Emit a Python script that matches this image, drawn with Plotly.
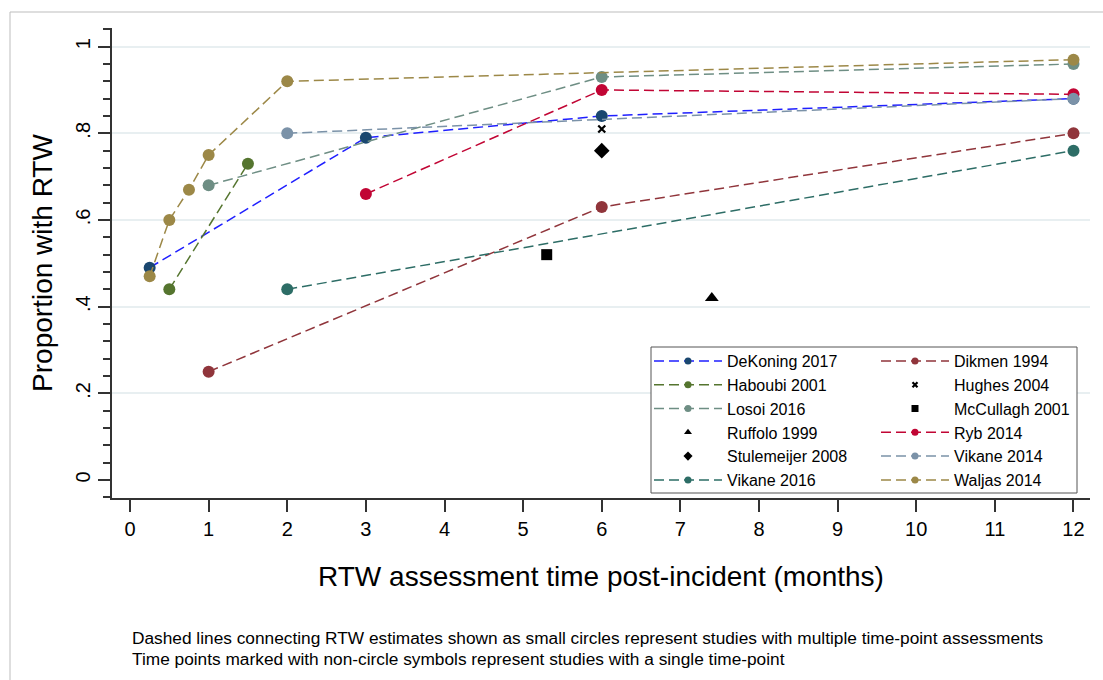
import plotly.graph_objects as go

# RTW proportions by assessment time (months post-incident)
dekoning_months = [0.25, 3, 6, 12]
dekoning_rtw = [0.49, 0.79, 0.84, 0.88]

dikmen_months = [1, 6, 12]
dikmen_rtw = [0.25, 0.63, 0.80]

haboubi_months = [0.5, 1.5]
haboubi_rtw = [0.44, 0.73]

hughes_months = [6]
hughes_rtw = [0.81]

losoi_months = [1, 6, 12]
losoi_rtw = [0.68, 0.93, 0.96]

mccullagh_months = [5.3]
mccullagh_rtw = [0.52]

ruffolo_months = [7.4]
ruffolo_rtw = [0.42]

ryb_months = [3, 6, 12]
ryb_rtw = [0.66, 0.90, 0.89]

stulemeijer_months = [6]
stulemeijer_rtw = [0.76]

vikane2014_months = [2, 12]
vikane2014_rtw = [0.80, 0.88]

vikane2016_months = [2, 12]
vikane2016_rtw = [0.44, 0.76]

waljas_months = [0.25, 0.5, 0.75, 1, 2, 12]
waljas_rtw = [0.47, 0.60, 0.67, 0.75, 0.92, 0.97]

x_ticks = list(range(0, 13))
y_ticks = [0, 0.2, 0.4, 0.6, 0.8, 1]
y_tick_labels = ["0", ".2", ".4", ".6", ".8", "1"]

caption_lines = [
    "Dashed lines connecting RTW estimates shown as small circles represent "
    "studies with multiple time-point assessments",
    "Time points marked with non-circle symbols represent studies with a "
    "single time-point",
]

FONT = "Arial, 'Liberation Sans', sans-serif"
DASH = "10px,5px"

# page geometry (pixels)
W, H = 1103, 680
ML, MR, MT, MB = 112, 13, 28, 182
PW, PH = W - ML - MR, H - MT - MB


def px_x(p):
    return (p - ML) / PW


def px_y(p):
    return (H - MB - p) / PH


fig = go.Figure()


def multi(name, xs, ys, line_color, marker_color, legend):
    line = dict(color=line_color, width=1.5, dash=DASH)
    fig.add_trace(go.Scatter(
        x=xs, y=ys, name=name, mode="lines+markers", line=line,
        marker=dict(symbol="circle", size=12, color=marker_color),
        showlegend=False,
    ))
    # legend key with a small marker
    fig.add_trace(go.Scatter(
        x=[None], y=[None], name=name, mode="lines+markers", line=line,
        marker=dict(symbol="circle", size=7, color=marker_color),
        legend=legend, hoverinfo="skip",
    ))


def single(name, xs, ys, symbol, size, key_size, legend):
    thin = symbol.endswith("-thin")
    mk = dict(symbol=symbol, color="black",
              line=dict(width=2.2 if thin else 0, color="black"))
    fig.add_trace(go.Scatter(
        x=xs, y=ys, name=name, mode="markers",
        marker=dict(size=size, **mk), showlegend=False,
    ))
    fig.add_trace(go.Scatter(
        x=[None], y=[None], name=name, mode="markers",
        marker=dict(size=key_size, **mk), legend=legend, hoverinfo="skip",
    ))


multi("DeKoning 2017", dekoning_months, dekoning_rtw, "#1f1fff", "#1a476f", "legend")
multi("Dikmen 1994", dikmen_months, dikmen_rtw, "#90353b", "#90353b", "legend2")
multi("Haboubi 2001", haboubi_months, haboubi_rtw, "#55752f", "#55752f", "legend")
single("Hughes 2004", hughes_months, hughes_rtw, "x-thin", 7, 5, "legend2")
multi("Losoi 2016", losoi_months, losoi_rtw, "#6e8e84", "#6e8e84", "legend")
single("McCullagh 2001", mccullagh_months, mccullagh_rtw, "square", 11, 7, "legend2")
single("Ruffolo 1999", ruffolo_months, ruffolo_rtw, "triangle-up", 12, 7, "legend")
multi("Ryb 2014", ryb_months, ryb_rtw, "#c10534", "#c10534", "legend2")
single("Stulemeijer 2008", stulemeijer_months, stulemeijer_rtw, "diamond", 12, 7, "legend")
multi("Vikane 2014", vikane2014_months, vikane2014_rtw, "#7b92a8", "#7b92a8", "legend2")
multi("Vikane 2016", vikane2016_months, vikane2016_rtw, "#2d6d66", "#2d6d66", "legend")
multi("Waljas 2014", waljas_months, waljas_rtw, "#9c8847", "#9c8847", "legend2")

legend_common = dict(
    font=dict(family=FONT, size=16, color="black"),
    bgcolor="rgba(0,0,0,0)", borderwidth=0,
    itemwidth=68, traceorder="normal", itemsizing="trace",
    xanchor="left", yanchor="top", orientation="v",
    itemclick=False, itemdoubleclick=False,
)

annotations = [
    dict(xref="paper", yref="paper", x=px_x(130), y=px_y(yc),
         xanchor="left", yanchor="middle", align="left", showarrow=False,
         text=txt, font=dict(family=FONT, size=17.3, color="black"))
    for txt, yc in zip(caption_lines, [638, 659])
]

fig.update_layout(
    width=W, height=H,
    margin=dict(l=ML, r=MR, t=MT, b=MB, autoexpand=False),
    paper_bgcolor="white", plot_bgcolor="white",
    font=dict(family=FONT, color="black"),
    legend=dict(x=px_x(649), y=px_y(344), **legend_common),
    legend2=dict(x=px_x(876), y=px_y(344), **legend_common),
    xaxis=dict(
        range=[-0.229, 12.21], tickvals=x_ticks,
        ticks="outside", ticklen=12, tickwidth=1.5, tickcolor="#333",
        showline=True, linecolor="#333", linewidth=1.5,
        showgrid=False, zeroline=False,
        tickfont=dict(size=20, color="black"),
        title=dict(text="RTW assessment time post-incident (months)",
                   font=dict(size=28, color="black"), standoff=28),
        fixedrange=True,
    ),
    yaxis=dict(
        range=[-0.0415, 1.043], tickvals=y_ticks, ticktext=y_tick_labels,
        tickangle=-90,
        ticks="outside", ticklen=12, tickwidth=1.5, tickcolor="#333",
        minor=dict(dtick=0.04, tick0=0, ticks="outside", ticklen=7,
                   tickwidth=1.5, tickcolor="#333", showgrid=False),
        showline=True, linecolor="#333", linewidth=1.5,
        showgrid=True, gridcolor="#e8eff1", gridwidth=1.5,
        zeroline=True, zerolinecolor="white", zerolinewidth=1,
        tickfont=dict(size=20, color="black"),
        title=dict(text="Proportion with RTW",
                   font=dict(size=28, color="black"), standoff=11),
        fixedrange=True,
    ),
    shapes=[
        # outer frame
        dict(type="rect", xref="paper", yref="paper",
             x0=px_x(10), x1=px_x(1115), y0=px_y(695), y1=px_y(12),
             line=dict(color="#bdbdbd", width=1), fillcolor="rgba(0,0,0,0)",
             layer="below"),
        # legend box
        dict(type="rect", xref="paper", yref="paper",
             x0=px_x(651), x1=px_x(1077), y0=px_y(493), y1=px_y(347),
             line=dict(color="#555", width=1), fillcolor="white",
             layer="above"),
    ],
    annotations=annotations,
)

fig.write_html("out.html")
